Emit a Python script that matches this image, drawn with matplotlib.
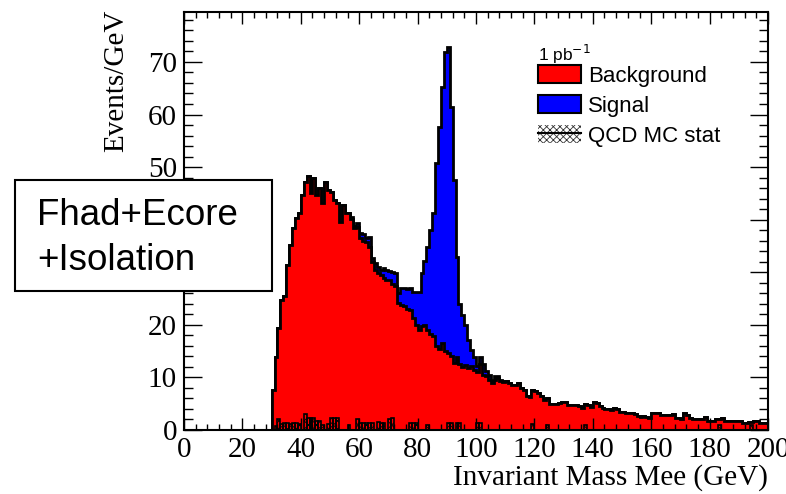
import numpy as np
import matplotlib.pyplot as plt
from matplotlib.patches import Patch, Rectangle
from matplotlib.lines import Line2D
from matplotlib.ticker import MultipleLocator

# 1 GeV bins from 0 to 200
edges = np.arange(0, 201, 1)

# background (red), bins starting at 30 GeV
first_bkg = 30
background = [
    7.6, 13.9, 19.4, 24.7, 25.5, 31.4, 35.2, 38.4, 40.3, 41.2,      # 30-39
    44.7, 47.2, 48.3, 45.0, 47.9, 44.7, 46.0, 43.2, 47.2, 45.6,     # 40-49
    45.3, 43.7, 43.2, 39.6, 42.8, 41.2, 41.2, 40.2, 38.5, 38.6,     # 50-59
    36.5, 36.0, 35.7, 34.9, 32.0, 30.4, 29.8, 29.5, 28.9, 28.5,     # 60-69
    28.5, 27.8, 27.3, 24.1, 23.8, 23.5, 23.0, 22.9, 21.3, 20.0,     # 70-79
    19.1, 19.7, 20.0, 19.1, 18.2, 17.9, 16.0, 15.4, 16.5, 15.0,     # 80-89
    14.6, 14.0, 12.8, 13.8, 12.5, 12.0, 12.3, 11.8, 12.2, 11.5,     # 90-99
    11.0, 12.6, 10.5, 10.3, 9.5, 9.0, 9.6, 9.8, 9.4, 9.1,           # 100-109
    9.4, 8.9, 8.5, 8.5, 8.9, 7.9, 7.6, 6.5, 6.3, 7.6,               # 110-119
    7.4, 7.0, 6.5, 5.7, 6.0, 5.0, 4.9, 4.9, 5.2, 5.4,               # 120-129
    5.3, 4.8, 4.8, 4.7, 4.8, 4.6, 4.1, 4.9, 4.8, 4.3,               # 130-139
    5.4, 5.1, 4.6, 4.2, 4.0, 3.9, 3.8, 4.2, 3.9, 3.5,               # 140-149
    3.4, 3.3, 3.2, 3.2, 3.1, 2.6, 2.4, 2.6, 2.5, 2.2,               # 150-159
    3.3, 3.2, 3.3, 2.9, 2.9, 2.8, 2.9, 3.0, 2.2, 2.3,               # 160-169
    2.1, 3.3, 2.9, 2.2, 2.1, 2.0, 2.0, 2.0, 2.4, 1.8,               # 170-179
    1.8, 1.8, 2.0, 2.0, 2.2, 1.8, 1.8, 1.8, 1.8, 1.8,               # 180-189
    1.8, 1.3, 1.3, 1.6, 1.6, 1.8, 1.8, 1.4, 1.4, 1.4,               # 190-199
]

# signal (blue), stacked on top, bins starting at 57 GeV
first_sig = 57
signal = [
    0.4, 0.3, 0.8,                                                  # 57-59
    1.0, 1.3, 0.8, 1.9, 0.8, 1.3, 1.2, 0.9, 1.9, 1.9,               # 60-69
    1.7, 2.2, 2.6, 1.9, 3.2, 3.5, 3.9, 4.1, 4.9, 6.2,               # 70-79
    7.1, 10.2, 12.1, 15.7, 19.8, 23.3, 34.7, 42.3, 48.8, 56.9,      # 80-89
    58.3, 47.5, 34.7, 19.1, 11.5, 9.8, 7.7, 5.3, 3.1, 2.3,          # 90-99
    1.2, 1.3, 2.0, 1.0, 1.0, 0.3, 0.7, 0.4, 0.2, 0.2,               # 100-109
]

# QCD MC statistical band near zero
qcd_bins = [31, 32, 33, 34, 35, 36, 37, 38, 39, 41, 42, 43, 44, 45, 46, 47,
            49, 50, 51, 52, 56, 59, 60, 61, 62, 63, 64, 66, 67, 68, 70, 71,
            77, 78, 79, 83, 90, 91, 93, 94, 100, 101, 119, 124, 137, 183, 194]
qcd_err = [0.8, 2.0, 1.2, 1.3, 1.3, 1.2, 1.3, 1.3, 1.2, 3.0, 2.2, 2.2, 2.2, 1.8, 1.8, 1.0,
           1.1, 2.2, 2.2, 2.2, 1.0, 2.1, 1.3, 1.3, 1.3, 1.3, 1.3, 1.6, 1.3, 1.3, 2.1, 2.2,
           1.3, 1.3, 1.3, 1.0, 1.3, 1.3, 1.3, 1.3, 1.3, 1.3, 1.1, 1.0, 1.0, 1.0, 1.0]

bkg = np.zeros(200)
bkg[first_bkg:first_bkg + len(background)] = background
sig = np.zeros(200)
sig[first_sig:first_sig + len(signal)] = signal
total = bkg + sig

plt.rcParams['hatch.linewidth'] = 0.6
serif = 'Liberation Serif'
sans = 'Liberation Sans'

W, H = 786, 494
fig = plt.figure(figsize=(W / 100, H / 100), dpi=100)
ax = fig.add_axes([184 / W, 64 / H, 584 / W, 418 / H])

ax.stairs(total, edges, fill=True, color='#0000ff', lw=0)
ax.stairs(total, edges, color='black', lw=2, joinstyle='miter')
ax.stairs(bkg, edges, fill=True, color='#ff0000', lw=0)
ax.stairs(bkg, edges, color='black', lw=2, joinstyle='miter')
ax.bar(qcd_bins, qcd_err, width=1, align='edge', facecolor='none',
       edgecolor='black', hatch='xxxx', lw=1.2)

ax.set_xlim(0, 200)
ax.set_ylim(0, 79.5)
ax.xaxis.set_major_locator(MultipleLocator(20))
ax.xaxis.set_minor_locator(MultipleLocator(4))
ax.yaxis.set_major_locator(MultipleLocator(10))
ax.yaxis.set_minor_locator(MultipleLocator(2))
ax.set_axisbelow(False)
ax.tick_params(which='both', direction='in', top=True, right=True, width=1, colors='black')
ax.tick_params(axis='x', which='major', length=8.6, pad=5)
ax.tick_params(axis='x', which='minor', length=4.3)
ax.tick_params(axis='y', which='major', length=13, pad=5)
ax.tick_params(axis='y', which='minor', length=6.5)
for lab in ax.get_xticklabels() + ax.get_yticklabels():
    lab.set_fontfamily(serif)
    lab.set_fontsize(21)
for s in ax.spines.values():
    s.set_linewidth(1.5)

ax.set_xlabel('Invariant Mass Mee (GeV)', fontfamily=serif, fontsize=21, loc='right')
ax.xaxis.set_label_coords(1.0, -0.082)
ax.set_ylabel('Events/GeV', fontfamily=serif, fontsize=21, loc='top')
ax.yaxis.set_label_coords(-0.094, 1.005)

# legend
fig.text(538 / W, 1 - 61 / H, '1 pb$^{-1}$', fontfamily=sans, fontsize=12.5, va='baseline')
h_bkg = Patch(facecolor='#ff0000', edgecolor='black', lw=1.5)
h_sig = Patch(facecolor='#0000ff', edgecolor='black', lw=1.5)
h_qcd = (Patch(facecolor='white', edgecolor='#333333', hatch='xxxxx', lw=0),
         Line2D([], [], color='black', lw=1.5))
leg = fig.legend([h_bkg, h_sig, h_qcd], ['Background', 'Signal', 'QCD MC stat'],
                 loc='upper left', bbox_to_anchor=(538 / W, 1 - 65 / H),
                 frameon=False, prop={'family': sans, 'size': 16},
                 handlelength=1.95, handleheight=0.85, handletextpad=0.3,
                 labelspacing=0.38, borderpad=0, borderaxespad=0)

# cut label box
fig.add_artist(Rectangle((15 / W, 1 - 291 / H), 257 / W, 111 / H,
                         transform=fig.transFigure, facecolor='white',
                         edgecolor='black', lw=1.5, zorder=5))
fig.text(37 / W, 1 - 225 / H, 'Fhad+Ecore', fontfamily=sans, fontsize=26.5,
         va='baseline', zorder=6)
fig.text(37 / W, 1 - 270 / H, '+Isolation', fontfamily=sans, fontsize=26.5,
         va='baseline', zorder=6)

fig.savefig('out.png', dpi=100)
